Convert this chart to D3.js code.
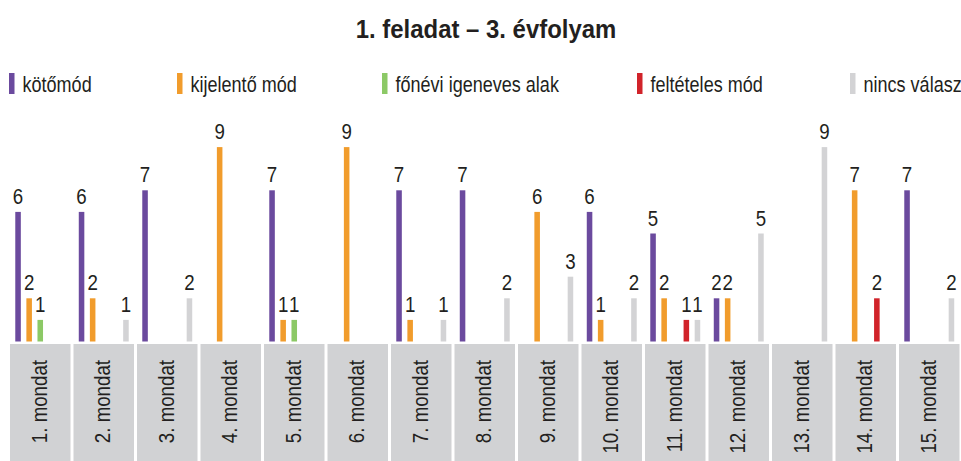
<!DOCTYPE html>
<html>
<head>
<meta charset="utf-8">
<script src="https://cdn.jsdelivr.net/npm/d3@7"></script>
<style>
  body { margin: 0; background: #fff; }
  text { font-family: "Liberation Sans", Arial, sans-serif; fill: #231f20; }
</style>
</head>
<body>
<svg id="viz"></svg>
<script>
var width = 961;
var height = 461;

var categories = ["1. mondat", "2. mondat", "3. mondat", "4. mondat", "5. mondat",
  "6. mondat", "7. mondat", "8. mondat", "9. mondat", "10. mondat",
  "11. mondat", "12. mondat", "13. mondat", "14. mondat", "15. mondat"];
var series = ["kötőmód", "kijelentő mód", "főnévi igeneves alak", "feltételes mód", "nincs válasz"];
var colors = ["#6b4a9e", "#f19c2c", "#8cc966", "#d1232a", "#d3d3d5"];

var kotomod     = [6, 6, 7, 0, 7, 0, 7, 7, 0, 6, 5, 2, 0, 0, 7];
var kijelento   = [2, 2, 0, 9, 1, 9, 1, 0, 6, 1, 2, 2, 0, 7, 0];
var fonevi      = [1, 0, 0, 0, 1, 0, 0, 0, 0, 0, 0, 0, 0, 0, 0];
var felteteles  = [0, 0, 0, 0, 0, 0, 0, 0, 0, 0, 1, 0, 0, 2, 0];
var nincs       = [0, 1, 2, 0, 0, 0, 1, 2, 3, 2, 1, 5, 9, 0, 2];
var values = [kotomod, kijelento, fonevi, felteteles, nincs];

var legendX = [9, 177, 382, 637, 850];

// narrow look: squeeze text horizontally
var squeeze = 0.85;
var legendSqueeze = 0.82;

var svg = d3.select("#viz").attr("width", width).attr("height", height);

// title
svg.append("text")
    .attr("transform", "translate(486,38) scale(0.92,1)")
    .attr("text-anchor", "middle")
    .style("font-size", "26px")
    .style("font-weight", "bold")
    .text("1. feladat – 3. évfolyam");

// legend
var legend = svg.append("g").selectAll("g")
    .data(series)
    .enter().append("g")
    .attr("transform", function(d, i) { return "translate(" + legendX[i] + ",73)"; });
legend.append("rect")
    .attr("width", 5.5).attr("height", 21)
    .attr("fill", function(d, i) { return colors[i]; });
legend.append("text")
    .attr("transform", "translate(13.5,19) scale(" + legendSqueeze + ",1)")
    .style("font-size", "22px")
    .text(function(d) { return d; });

// scales
var x0 = d3.scaleBand()
    .domain(categories)
    .range([10, 959.5])
    .paddingInner(3 / 63.5)
    .paddingOuter(0);

var x1 = d3.scaleBand()
    .domain(series)
    .range([2.5, x0.bandwidth() - 2.5])
    .paddingInner(0.5)
    .paddingOuter(0.25);

var baseline = 341.5;
var y = d3.scaleLinear().domain([0, 9]).range([baseline, baseline - 194.4]);

// category boxes
var cat = svg.append("g").selectAll("g")
    .data(categories)
    .enter().append("g")
    .attr("transform", function(d) { return "translate(" + x0(d) + ",0)"; });
cat.append("rect")
    .attr("y", 344)
    .attr("width", x0.bandwidth())
    .attr("height", height - 344)
    .attr("fill", "#d1d2d4");
cat.append("text")
    .attr("transform", "translate(" + (x0.bandwidth() / 2 - 1) + ",360) rotate(-90) scale(" + squeeze + ",1)")
    .attr("text-anchor", "end")
    .attr("dominant-baseline", "central")
    .style("font-size", "22px")
    .text(function(d) { return d; });

// bars
var cells = [];
categories.forEach(function(c, ci) {
    series.forEach(function(s, si) {
        var v = values[si][ci];
        if (v > 0) cells.push({cat: c, ser: s, si: si, value: v});
    });
});

svg.append("g").selectAll("rect")
    .data(cells)
    .enter().append("rect")
    .attr("x", function(d) { return x0(d.cat) + x1(d.ser); })
    .attr("y", function(d) { return y(d.value); })
    .attr("width", x1.bandwidth())
    .attr("height", function(d) { return baseline - y(d.value); })
    .attr("fill", function(d) { return colors[d.si]; });

svg.append("g").selectAll("text")
    .data(cells)
    .enter().append("text")
    .attr("transform", function(d) {
        var cx = x0(d.cat) + x1(d.ser) + x1.bandwidth() / 2;
        return "translate(" + cx + "," + (y(d.value) - 8) + ") scale(" + squeeze + ",1)";
    })
    .attr("text-anchor", "middle")
    .style("font-size", "22px")
    .text(function(d) { return d.value; });
</script>
</body>
</html>
